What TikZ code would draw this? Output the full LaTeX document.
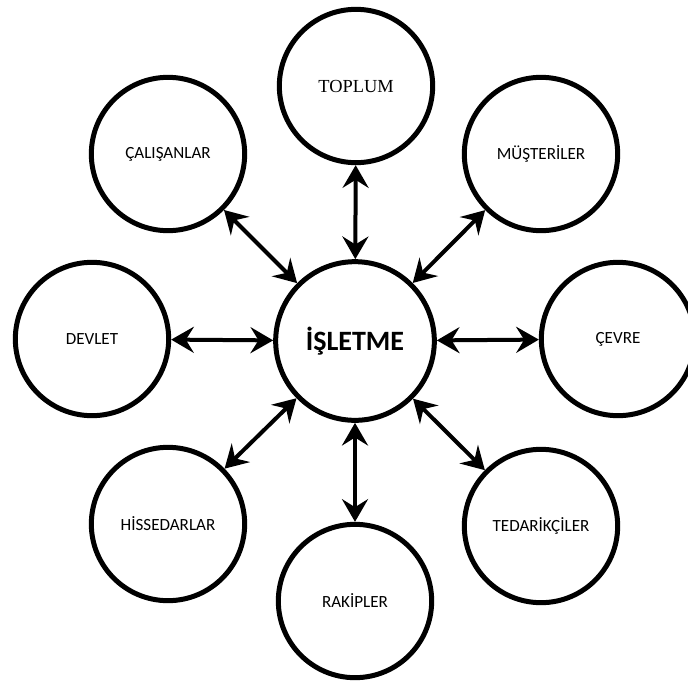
\documentclass[tikz,border=0pt]{standalone}
\usepackage{fontspec}
\setmainfont{Carlito}
\newfontfamily\timesfont{Liberation Serif}
\usetikzlibrary{arrows.meta}
\tikzset{
  party/.style={circle, draw=black, line width=3.75pt, minimum size=115pt, inner sep=0pt, font=\fontsize{12.8pt}{15pt}\selectfont},
  core/.style={circle, draw=black, line width=3.75pt, minimum size=119pt, inner sep=0pt, font=\bfseries\fontsize{21pt}{25pt}\selectfont},
  link/.style={line width=3pt, {Stealth[length=17pt,width=19.5pt,inset=6pt]}-{Stealth[length=17pt,width=19.5pt,inset=6pt]}}
}
\begin{document}
\begin{tikzpicture}[x=0.75pt,y=-0.75pt]
\useasboundingbox (0,0) rectangle (688,682);
\node[core] (c) at (355,341) {İŞLETME};
\node[party, font=\timesfont\fontsize{13.8pt}{16pt}\selectfont] (top) at (356,86) {TOPLUM};
\node[party] (cal) at (168,154) {ÇALIŞANLAR};
\node[party] (mus) at (541,154) {MÜŞTERİLER};
\node[party] (dev) at (92,339) {DEVLET};
\node[party] (cev) at (618,339) {ÇEVRE};
\node[party] (his) at (168,524) {HİSSEDARLAR};
\node[party] (ted) at (541,526) {TEDARİKÇİLER};
\node[party] (rak) at (355,601) {RAKİPLER};
\draw[link] (top) -- (c);
\draw[link] (cal) -- (c);
\draw[link] (mus) -- (c);
\draw[link] (dev) -- (c);
\draw[link] (cev) -- (c);
\draw[link] (his) -- (c);
\draw[link] (ted) -- (c);
\draw[link] (rak) -- (c);
\end{tikzpicture}
\end{document}
